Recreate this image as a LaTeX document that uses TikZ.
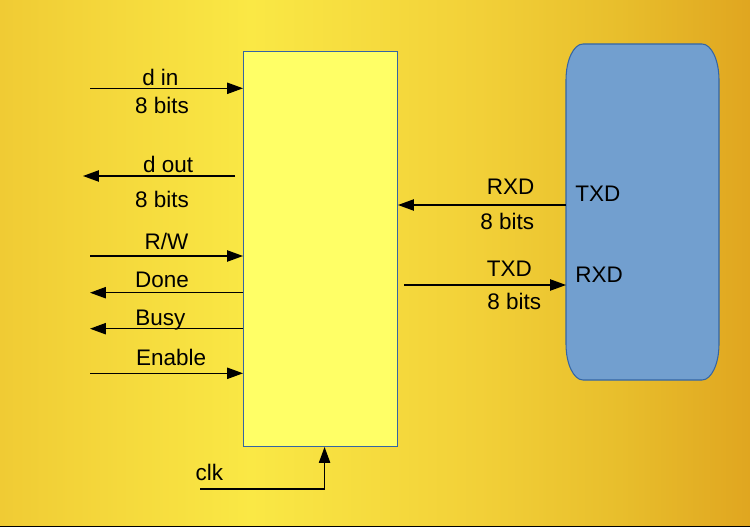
\documentclass[tikz,border=0pt]{standalone}
\usepackage{fontspec}
\setmainfont{Liberation Sans}
\usetikzlibrary{arrows.meta}

\definecolor{bgA}{HTML}{F0CB34}
\definecolor{bgB}{HTML}{FAE845}
\definecolor{bgC}{HTML}{F2D038}
\definecolor{bgD}{HTML}{E8BE2C}
\definecolor{bgE}{HTML}{E0A620}
\definecolor{boxyellow}{HTML}{FFFF66}
\definecolor{boxblue}{HTML}{729FCF}
\definecolor{edgeblue}{HTML}{3465A4}

\pgfdeclarehorizontalshading{bgshade}{100bp}{color(0bp)=(bgA); color(25bp)=(bgA); color(41.7bp)=(bgB); color(57bp)=(bgC); color(66.3bp)=(bgD); color(75bp)=(bgE); color(100bp)=(bgE)}

\tikzset{
	sig/.style={draw=black, line width=0.7pt, -{Triangle[length=9pt, width=6.4pt]}},
	lblup/.style={anchor=base, yshift=#1},
	lbldn/.style={anchor=base, yshift=-#1},
	every node/.style={font=\fontsize{12.8pt}{15pt}\selectfont, inner sep=0pt}
}

\begin{document}
\begin{tikzpicture}[x=0.02cm, y=-0.02cm]
	\useasboundingbox (0,0) rectangle (750,527);
	\shade[shading=bgshade] (0,0) rectangle (750,527);
	\fill[black] (0,525.6) rectangle (750,527);

	\node at (243,51) [anchor=north west, draw=edgeblue, fill=boxyellow, line width=0.6pt, minimum width=3.08cm, minimum height=7.9cm] (ctrl) {};
	% rounded blue block, corners wider than tall
	\draw[edgeblue, fill=boxblue, line width=0.6pt] (583,44) -- (702,44)
		arc[start angle=-90, end angle=0, x radius=17, y radius=36] -- (719,344)
		arc[start angle=0, end angle=90, x radius=17, y radius=36] -- (583,380)
		arc[start angle=90, end angle=180, x radius=17, y radius=36] -- (566,80)
		arc[start angle=180, end angle=270, x radius=17, y radius=36] -- cycle;
	\node at (566,44) [anchor=north west, minimum width=3.06cm, minimum height=6.72cm] (uart) {};
	\node at (575,201) [anchor=base west] (utxd) {TXD};
	\node at (575,282) [anchor=base west] (urxd) {RXD};

	\coordinate (din) at (90,88.3);
	\coordinate (doutr) at (235,176);
	\coordinate (doutl) at (83,176);
	\coordinate (rw) at (90,256);
	\coordinate (done) at (90,292.7);
	\coordinate (busy) at (90,328.7);
	\coordinate (enable) at (90,373.3);
	\coordinate (rxd) at (398,205);
	\coordinate (txd) at (404,285);
	\coordinate (clk) at (200,489);

	\draw [sig] (din) -- (din -| ctrl.west) node[pos=0.46, lblup=1.7pt] {d in} node[pos=0.47, lbldn=14.2pt] {8 bits};
	\draw [sig] (doutr) -- (doutl) node[pos=0.44, lblup=1.9pt] {d out} node[pos=0.48, lbldn=18.1pt] {8 bits};
	\draw [sig] (rw) -- (rw -| ctrl.west) node[midway, lblup=3.8pt] {R/W};
	\draw [sig] (done -| ctrl.west) -- (done) node[pos=0.53, lblup=2.8pt] {Done};
	\draw [sig] (busy -| ctrl.west) -- (busy) node[pos=0.54, lblup=2.1pt] {Busy};
	\draw [sig] (enable) -- (enable -| ctrl.west) node[pos=0.53, lblup=4.3pt] {Enable};
	\draw [sig] (rxd -| uart.west) -- (rxd) node[pos=0.33, lblup=5.7pt] {RXD} node[pos=0.35, lbldn=14.2pt] {8 bits};
	\draw [sig] (txd) -- (txd -| uart.west) node[pos=0.65, lblup=5.1pt] {TXD} node[pos=0.68, lbldn=14.2pt] {8 bits};
	\draw [sig] (clk) -| ([xshift=2.3pt]ctrl.south) node[at start, anchor=base west, xshift=-2.8pt, yshift=5.1pt] {clk};
\end{tikzpicture}
\end{document}
